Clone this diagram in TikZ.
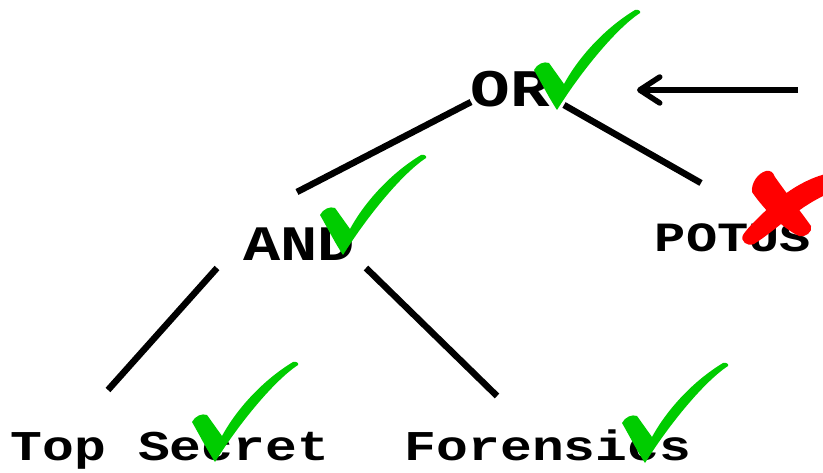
\documentclass[tikz,border=0pt]{standalone}
\usepackage{fontspec}
\newfontfamily\courfont{Liberation Mono}
\usetikzlibrary{arrows.meta}
\definecolor{tickgreen}{RGB}{0,204,0}
\definecolor{crossred}{RGB}{255,0,0}
% slightly lower letter shapes for the typewriter labels
\newcommand\lowcaps[1]{\scalebox{1}[0.8]{#1}}
\tikzset{
  term/.style={font=\courfont\bfseries\fontsize{#1}{#1}\selectfont,
    inner sep=0pt, anchor=base},
  edge/.style={draw=black, line width=6.5bp},
  pointer/.style={draw=black, line width=5.5bp,
    -{Straight Barb[length=20bp,width=26bp,round]}},
  checkmark/.pic={
    \fill[tickgreen] (0,0)
      .. controls (-8,-12) and (-16,-28) .. (-23,-40)
      .. controls (-20,-46) and (-13,-49) .. (-8,-47)
      .. controls (-3,-40) and (2,-33) .. (7,-26)
      .. controls (20,-50) and (45,-80) .. (78,-100)
      .. controls (81,-101) and (84,-99) .. (83,-97)
      .. controls (60,-82) and (25,-40) .. (0,0) -- cycle;
  }
}
\begin{document}
\begin{tikzpicture}[x=1bp, y=-1bp]
  \useasboundingbox (0,0) rectangle (823,473);

  % the tree of conditions
  \node[term=66bp] (or)  at (510,107) {\lowcaps{OR}};
  \node[term=62bp] (and) at (299,261) {\lowcaps{AND}};
  \node[term=52bp] (potus) at (733,252) {\lowcaps{POTUS}};
  \node[term=53bp] (secret) at (170,460) {\lowcaps{Top Secret}};
  \node[term=53bp] (forensics) at (548,460) {\lowcaps{Forensics}};

  % end points of the branches
  \coordinate (or-l)  at (471,102);
  \coordinate (or-r)  at (564,105);
  \coordinate (and-t) at (297,192);
  \coordinate (and-l) at (217,268);
  \coordinate (and-r) at (366,268);
  \coordinate (potus-t) at (701,183);
  \coordinate (secret-t) at (108,390);
  \coordinate (forensics-t) at (497,396);

  \draw[edge] (or-l) -- (and-t);
  \draw[edge] (or-r) -- (potus-t);
  \draw[edge] (and-l) -- (secret-t);
  \draw[edge] (and-r) -- (forensics-t);

  % arrow pointing at the root
  \coordinate (arrow-start) at (798,90);
  \coordinate (arrow-end) at (637,90);
  \draw[pointer] (arrow-start) -- (arrow-end);

  % results
  \pic at (557,110) {checkmark};
  \pic at (343,255) {checkmark};
  \pic at (215,462) {checkmark};
  \pic at (645,463) {checkmark};

  \begin{scope}
    \clip (0,0) rectangle (823,473);
    % stroke from upper left to lower right
    \fill[crossred] (766,171)
      .. controls (758,173) and (751,183) .. (752,192)
      .. controls (765,211) and (784,229) .. (799,236)
      .. controls (805,238) and (813,232) .. (811,226)
      .. controls (798,208) and (784,190) .. (775,177)
      .. controls (773,172) and (770,170) .. (766,171) -- cycle;
    % stroke from upper right to lower left
    \fill[crossred] (830,173)
      .. controls (810,177) and (790,189) .. (775,202)
      .. controls (762,214) and (748,227) .. (743,235)
      .. controls (740,241) and (747,247) .. (754,244)
      .. controls (775,231) and (800,205) .. (830,193) -- cycle;
  \end{scope}
\end{tikzpicture}
\end{document}
